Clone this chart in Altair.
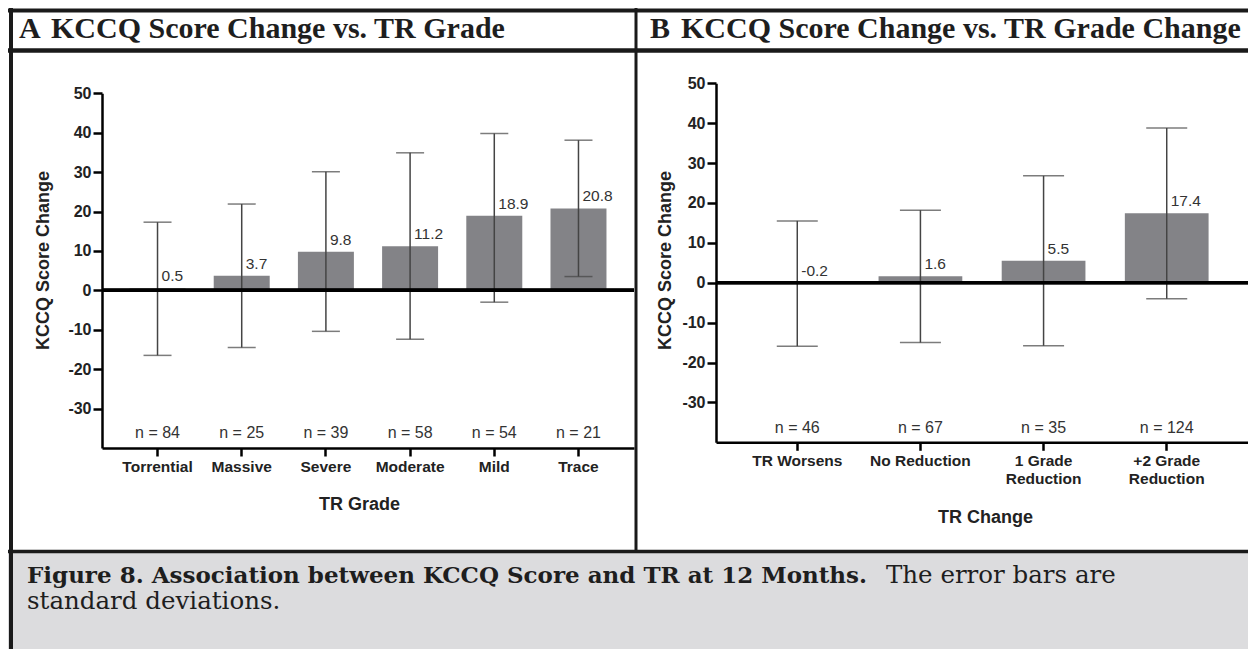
import altair as alt
import pandas as pd

# ---------------- data ----------------
a_cats = ["Torrential", "Massive", "Severe", "Moderate", "Mild", "Trace"]
a_mean = [0.5, 3.7, 9.8, 11.2, 18.9, 20.8]
a_hi = [17.3, 21.9, 30.1, 34.9, 39.8, 38.1]
a_lo = [-16.5, -14.5, -10.4, -12.4, -3.0, 3.5]
a_n = [84, 25, 39, 58, 54, 21]

b_cats = ["TR Worsens", "No Reduction", "1 Grade|Reduction", "+2 Grade|Reduction"]
b_mean = [-0.2, 1.6, 5.5, 17.4]
b_hi = [15.5, 18.2, 26.8, 38.8]
b_lo = [-15.9, -15.0, -15.8, -4.0]
b_n = [46, 67, 35, 124]

y_ticks = [-30, -20, -10, 0, 10, 20, 30, 40, 50]
header_letters = ["A", "B"]
header_titles = ["KCCQ Score Change vs. TR Grade", "KCCQ Score Change vs. TR Grade Change"]
x_titles = ["TR Grade", "TR Change"]
y_title = "KCCQ Score Change"
caption_bold = "Figure 8. Association between KCCQ Score and TR at 12 Months."
caption_regular = "The error bars are"
caption_line2 = "standard deviations."

W, H = 1240, 641
BAR = "#838387"
ERR = "#444444"
TXT = "#333333"
SANS = "Liberation Sans"
SERIF = "Liberation Serif"
CAPFONT = "DejaVu Serif"

one = pd.DataFrame({"k": [0]})


def make_panel(cats, mean, hi, lo, n, xr, yr, pin, pout, cap, xtitle,
               xtitle_x, xtitle_y, ytitle_x, ytitle_y, ndy, multiline):
    df = pd.DataFrame({"cat": cats, "mean": mean, "hi": hi, "lo": lo, "n": n})
    xoff = -(H - yr[0])
    yoff = -xr[0]

    def xs():
        return alt.Scale(type="band", domain=cats, range=xr,
                         paddingInner=pin, paddingOuter=pout)

    def ys():
        return alt.Scale(domain=[-40, 50], range=yr, nice=False, zero=False)

    xkw = dict(labelExpr="split(datum.label, '|')") if multiline else {}
    xaxis = alt.Axis(orient="bottom", offset=xoff, grid=False,
                     domainColor="black", domainWidth=2.5,
                     tickColor="black", tickWidth=2.5, tickSize=8,
                     labelAngle=0, labelFont=SANS, labelFontWeight="bold",
                     labelFontSize=15.5, labelColor="#222", labelPadding=3,
                     labelLineHeight=18, labelLimit=300,
                     title=xtitle, titleFont=SANS, titleFontWeight="bold",
                     titleFontSize=18, titleColor="#222",
                     titleX=xtitle_x, titleY=xtitle_y,
                     titleAlign="center", titleBaseline="middle", **xkw)
    yaxis = alt.Axis(orient="left", offset=yoff, grid=False, values=y_ticks,
                     labelExpr="'' + datum.value",
                     domainColor="black", domainWidth=2.5,
                     tickColor="black", tickWidth=2.5, tickSize=9,
                     labelFont=SANS, labelFontWeight="bold", labelFontSize=16,
                     labelColor="#222", labelPadding=2,
                     title=y_title, titleFont=SANS, titleFontWeight="bold",
                     titleFontSize=18, titleColor="#222", titleAngle=270,
                     titleX=ytitle_x, titleY=ytitle_y,
                     titleAlign="center", titleBaseline="middle")

    def X(ax=None):
        return alt.X("cat:N", sort=cats, scale=xs(), axis=ax)

    def Y(f, ax=None):
        return alt.Y(f, scale=ys(), axis=ax)

    base = alt.Chart(df).transform_calculate(
        ly="max(datum.mean, 0)", ny="-40", zy="0",
        lab="toString(datum.mean)", ntxt="'n = ' + datum.n")

    bars = base.mark_bar(color=BAR).encode(x=X(xaxis), y=Y("mean:Q", yaxis), y2="zy:Q")
    zero = base.mark_rule(color="black", strokeWidth=3).encode(
        x=alt.value(xr[0]), x2=alt.value(xr[1]), y=Y("zy:Q"))
    err = base.mark_rule(color=ERR, strokeWidth=1.5).encode(x=X(), y=Y("lo:Q"), y2="hi:Q")
    cap_hi = base.mark_tick(color=ERR, size=cap, thickness=1.5).encode(x=X(), y=Y("hi:Q"))
    cap_lo = base.mark_tick(color=ERR, size=cap, thickness=1.5).encode(x=X(), y=Y("lo:Q"))
    vlab = base.mark_text(align="left", baseline="alphabetic", dx=4, dy=-7,
                          font=SANS, fontSize=15.5, color=TXT).encode(
        x=X(), y=Y("ly:Q"), text="lab:N")
    nlab = base.mark_text(align="center", baseline="alphabetic", dy=ndy,
                          font=SANS, fontSize=16, color=TXT).encode(
        x=X(), y=Y("ny:Q"), text="ntxt:N")
    return [bars, err, cap_hi, cap_lo, zero, vlab, nlab]


panel_a = make_panel(a_cats, a_mean, a_hi, a_lo, a_n,
                     xr=[94, 626], yr=[440, 85.3], pin=0.335, pout=0.327, cap=28,
                     xtitle=x_titles[0], xtitle_x=351, xtitle_y=56,
                     ytitle_x=-59, ytitle_y=252, ndy=-10, multiline=False)
panel_b = make_panel(b_cats, b_mean, b_hi, b_lo, b_n,
                     xr=[708, 1240], yr=[434.3, 75.3], pin=0.32, pout=0.32, cap=41,
                     xtitle=x_titles[1], xtitle_x=977, xtitle_y=75,
                     ytitle_x=-51, ytitle_y=252, ndy=-9.5, multiline=True)


def hline(y, x0, x1, w):
    return alt.Chart(one).mark_rule(color="#1a1a1a", strokeWidth=w).encode(
        x=alt.value(x0), x2=alt.value(x1), y=alt.value(y))


def vline(x, y0, y1, w):
    return alt.Chart(one).mark_rule(color="#1a1a1a", strokeWidth=w).encode(
        x=alt.value(x), y=alt.value(y0), y2=alt.value(y1))


def text(s, x, y, size, weight, font=SERIF, color="#1e1e1e"):
    return alt.Chart(one).mark_text(align="left", baseline="alphabetic", font=font,
                                    fontSize=size, fontWeight=weight, color=color).encode(
        x=alt.value(x), y=alt.value(y), text=alt.value(s))


caption_bg = alt.Chart(one).mark_rect(color="#dcdcde").encode(
    x=alt.value(0), x2=alt.value(W), y=alt.value(545), y2=alt.value(H))

deco = [
    caption_bg,
    hline(2.5, 0, W, 4),
    hline(42.5, 0, W, 4.5),
    hline(543.5, 0, W, 3.5),
    vline(3, 0, H, 4),
    vline(628, 0, 543, 3),
    text(header_letters[0], 11, 30, 30, "bold"),
    text(header_titles[0], 43, 30, 30, "bold"),
    text(header_letters[1], 642, 30, 30, "bold"),
    text(header_titles[1], 673, 30, 30, "bold"),
    text(caption_bold, 19, 575, 23, "bold", font=CAPFONT),
    text(caption_regular, 878, 575, 24.5, "normal", font=CAPFONT),
    text(caption_line2, 19, 601, 24.5, "normal", font=CAPFONT),
]

chart = alt.layer(*deco, *panel_a, *panel_b).resolve_scale(
    x="independent", y="independent"
).properties(
    width=W, height=H, padding=0, autosize=alt.AutoSizeParams(type="none")
).configure_view(stroke=None)

chart.save("out.html", embed_options={"renderer": "svg", "actions": False})
